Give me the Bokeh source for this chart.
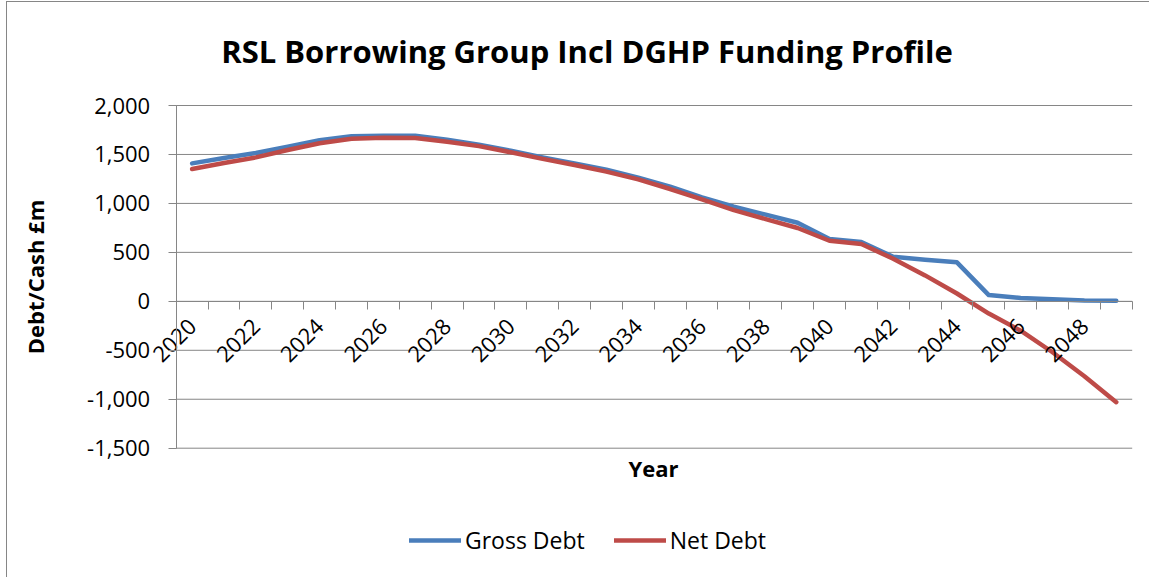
from math import pi
from bokeh.plotting import figure
from bokeh.models import (LinearAxis, FixedTicker, NumeralTickFormatter, Range1d,
                          Legend, LegendItem, Label, ColumnDataSource)
from bokeh.embed import file_html
from bokeh.resources import INLINE

# ---- data ----
years = list(range(2020, 2050))
gross_debt = [1409, 1464, 1515, 1579, 1645, 1685, 1692, 1690, 1650, 1600,
              1538, 1470, 1409, 1345, 1262, 1171, 1061, 966, 885, 803,
              636, 605, 455, 425, 398, 64, 35, 22, 8, 5]
net_debt = [1351, 1412, 1470, 1545, 1615, 1660, 1670, 1668, 1630, 1585,
            1522, 1455, 1392, 1325, 1245, 1147, 1041, 932, 840, 749,
            619, 585, 435, 265, 80, -125, -300, -520, -765, -1030]
label_years = list(range(2020, 2049, 2))
category_edges = [y - 0.5 for y in range(2020, 2051)]
y_ticks = [-1500, -1000, -500, 0, 500, 1000, 1500, 2000]
title_text = "RSL Borrowing Group Incl DGHP Funding Profile"
x_title = "Year"
y_title = "Debt/Cash £m"
series_names = ["Gross Debt", "Net Debt"]

GRAY = "#868686"
BLUE = "#4A7EBB"
RED = "#BE4B48"
FONT = "Open Sans"

# ---- page geometry (pixels in the 1150x578 page) ----
CANVAS_X0, CANVAS_Y0 = 7, 2          # canvas origin after margin + border
W = 1150 - CANVAS_X0
H = 578 - CANVAS_Y0
PLOT_L, PLOT_R = 175.7, 1131.7       # category axis extent
PLOT_T, PLOT_B = 105.0, 447.7        # value axis extent
X_LO, X_HI = years[0] - 0.5, years[-1] + 0.5
Y_LO, Y_HI = y_ticks[0], y_ticks[-1]
ppx = (PLOT_R - PLOT_L) / (X_HI - X_LO)
ppy = (PLOT_B - PLOT_T) / (Y_HI - Y_LO)


def px_to_x(px):
    return X_LO + (px - PLOT_L) / ppx


def py_to_y(py):
    return Y_LO + (PLOT_B - py) / ppy


p = figure(width=W, height=H, output_backend="svg", toolbar_location=None,
           x_range=Range1d(px_to_x(CANVAS_X0), px_to_x(1150)),
           y_range=Range1d(py_to_y(578), py_to_y(CANVAS_Y0)),
           x_axis_location=None, y_axis_location=None, title=None,
           min_border=0, min_border_left=0, min_border_right=0,
           min_border_top=0, min_border_bottom=0)
p.margin = (1, 0, 0, 6)
p.styles = {"border-left": "1px solid " + GRAY, "border-top": "1px solid " + GRAY}
p.outline_line_color = None
p.background_fill_color = "white"
p.border_fill_color = "white"
p.xgrid.visible = False
p.ygrid.visible = False

# horizontal gridlines over the plot area
p.segment(x0=[X_LO] * len(y_ticks), x1=[X_HI] * len(y_ticks), y0=y_ticks, y1=y_ticks,
          line_color=GRAY, line_width=1)

# value axis
yax = LinearAxis(fixed_location=X_LO, bounds=(Y_LO, Y_HI),
                 ticker=FixedTicker(ticks=y_ticks))
yax.formatter = NumeralTickFormatter(format="0,0")
yax.major_label_text_font = FONT
yax.major_label_text_font_size = "22px"
yax.major_label_text_color = "black"
yax.major_label_standoff = 18
yax.major_tick_out = 8
yax.major_tick_in = 0
yax.major_tick_line_color = GRAY
yax.minor_tick_line_color = None
yax.axis_line_color = GRAY
yax.axis_label = y_title
yax.axis_label_text_font = FONT
yax.axis_label_text_font_style = "bold"
yax.axis_label_text_font_size = "22px"
yax.axis_label_text_color = "black"
yax.axis_label_standoff = 34
p.add_layout(yax, "left")

# category axis drawn at y = 0
xax = LinearAxis(fixed_location=0, bounds=(X_LO, X_HI),
                 ticker=FixedTicker(ticks=label_years, minor_ticks=category_edges))
xax.major_tick_line_color = None
xax.minor_tick_line_color = GRAY
xax.minor_tick_out = 8
xax.minor_tick_in = 0
xax.axis_line_color = GRAY
xax.major_label_orientation = pi / 4
xax.major_label_text_font = FONT
xax.major_label_text_font_size = "22px"
xax.major_label_text_color = "black"
xax.major_label_standoff = 13
p.add_layout(xax, "below")

# titles
p.add_layout(Label(x=px_to_x(586.5), y=py_to_y(50), text=title_text,
                   text_font=FONT, text_font_style="bold", text_font_size="31px",
                   text_align="center", text_baseline="alphabetic", text_color="black"))
p.add_layout(Label(x=px_to_x(653), y=py_to_y(467), text=x_title,
                   text_font=FONT, text_font_style="bold", text_font_size="22px",
                   text_align="center", text_baseline="alphabetic", text_color="black"))

src = ColumnDataSource(dict(year=years, gross=gross_debt, net=net_debt))
r1 = p.line("year", "gross", source=src, line_color=BLUE, line_width=4.5,
            line_join="round", line_cap="round")
r2 = p.line("year", "net", source=src, line_color=RED, line_width=4.5,
            line_join="round", line_cap="round")

legend = Legend(items=[LegendItem(label=series_names[0], renderers=[r1]),
                       LegendItem(label=series_names[1], renderers=[r2])],
                orientation="horizontal", location=(409 - CANVAS_X0, 578 - 556),
                glyph_width=52, glyph_height=20, label_standoff=4, spacing=29,
                padding=0, margin=0, border_line_color=None,
                background_fill_alpha=0,
                label_text_font=FONT, label_text_font_size="23px",
                label_text_color="black")
p.add_layout(legend, "center")

open("out.html", "w").write(file_html(p, INLINE))
